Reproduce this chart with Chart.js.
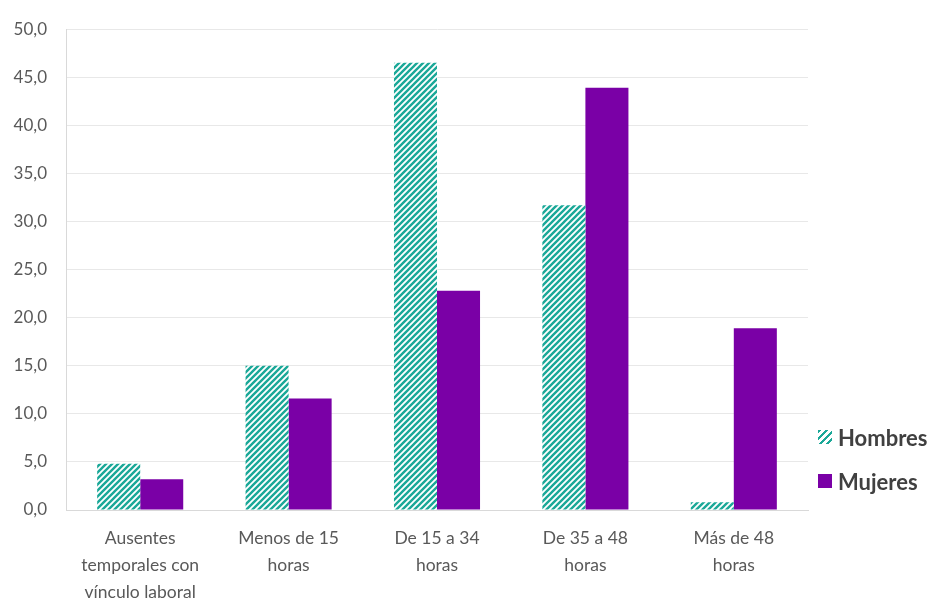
<!DOCTYPE html>
<html>
<head>
<meta charset="utf-8">
<script src="https://cdn.jsdelivr.net/npm/chart.js@4.4.1/dist/chart.umd.min.js"></script>
<style>
  html, body { margin: 0; padding: 0; background: #fff; }
  #wrap { position: relative; width: 934px; height: 601px; }
  #legend { position: absolute; left: 818px; top: 422px; font-family: Lato, sans-serif; font-weight: bold; font-size: 22px; color: #404040; }
  #legend div { display: flex; align-items: center; height: 30px; margin-bottom: 14px; }
  #legend span.sw { display: inline-block; width: 14px; height: 14px; margin-right: 6px; }
</style>
</head>
<body>
<div id="wrap">
  <canvas id="hoursChart" width="934" height="601"></canvas>
  <div id="legend">
    <div><span class="sw" style="background: repeating-linear-gradient(135deg, #1aa898 0 2.5px, #fff 2.5px 5px);"></span>Hombres</div>
    <div><span class="sw" style="background:#7a00a6;"></span>Mujeres</div>
  </div>
</div>
<script>
const categories = [
  ['Ausentes', 'temporales con', 'vínculo laboral'],
  ['Menos de 15', 'horas'],
  ['De 15 a 34', 'horas'],
  ['De 35 a 48', 'horas'],
  ['Más de 48', 'horas']
];
const hombres = [4.8, 15.0, 46.5, 31.7, 0.8];
const mujeres = [3.2, 11.6, 22.8, 43.9, 18.9];
const yTicks = [0, 5, 10, 15, 20, 25, 30, 35, 40, 45, 50];

// diagonal stripe pattern for Hombres
function stripePattern(color) {
  const c = document.createElement('canvas');
  c.width = 6; c.height = 6;
  const g = c.getContext('2d');
  g.fillStyle = '#fff';
  g.fillRect(0, 0, 6, 6);
  g.strokeStyle = color;
  g.lineWidth = 2.4;
  g.beginPath();
  g.moveTo(-1, 7); g.lineTo(7, -1);
  g.moveTo(-4, 4); g.lineTo(4, -4);
  g.moveTo(2, 10); g.lineTo(10, 2);
  g.stroke();
  return g.createPattern(c, 'repeat');
}

const ctx = document.getElementById('hoursChart');
new Chart(ctx, {
  type: 'bar',
  data: {
    labels: categories,
    datasets: [
      {
        label: 'Hombres',
        data: hombres,
        backgroundColor: stripePattern('#1aa898'),
        borderWidth: 0
      },
      {
        label: 'Mujeres',
        data: mujeres,
        backgroundColor: '#7a00a6',
        borderWidth: 0
      }
    ]
  },
  options: {
    responsive: false,
    animation: false,
    layout: {
      padding: { top: 13, right: 126, left: 0, bottom: 0 }
    },
    plugins: {
      legend: { display: false },
      tooltip: { enabled: false }
    },
    datasets: {
      bar: {
        categoryPercentage: 0.58,
        barPercentage: 1.0
      }
    },
    scales: {
      x: {
        grid: { display: false },
        border: { color: '#d9d9d9', width: 1 },
        ticks: {
          color: '#595959',
          font: { family: 'Lato', size: 17.5, lineHeight: 1.55 },
          padding: 7,
          maxRotation: 0,
          autoSkip: false
        },
        afterFit: (scale) => { scale.height = 91; }
      },
      y: {
        min: 0,
        max: 50,
        afterBuildTicks: (scale) => { scale.ticks = yTicks.map(v => ({ value: v })); },
        grid: { color: '#e8e8e8', drawTicks: false },
        border: { color: '#d9d9d9', width: 1 },
        ticks: {
          color: '#595959',
          font: { family: 'Lato', size: 17 },
          padding: 19,
          callback: (v) => v.toFixed(1).replace('.', ',')
        },
        afterFit: (scale) => { scale.width = 66; }
      }
    }
  }
});
</script>
</body>
</html>
